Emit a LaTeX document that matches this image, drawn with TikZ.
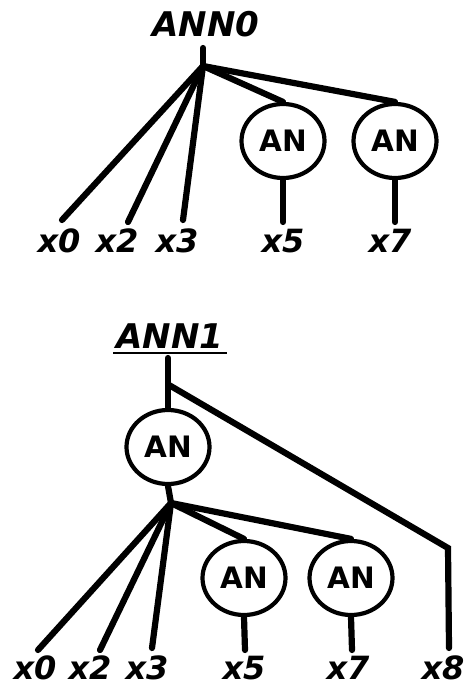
\documentclass[tikz,border=0pt]{standalone}
\usepackage{fontspec}
\setmainfont{DejaVu Sans}
\usetikzlibrary{shapes.geometric}
\begin{document}
\begin{tikzpicture}[x=1pt,y=-1pt,line width=6.2pt,line cap=round,
  an/.style={draw,ellipse,minimum width=83pt,minimum height=74pt,line width=4.2pt,inner sep=0pt,
    font=\fontsize{29.5}{29.5}\selectfont\bfseries},
  lbl/.style={anchor=base,inner sep=0pt,font=\fontsize{32}{32}\selectfont\bfseries\itshape},
  ttl/.style={anchor=base,inner sep=0pt,font=\fontsize{34}{34}\selectfont\bfseries\itshape}]
\useasboundingbox (0,0) rectangle (463,684);

% ---------- top tree ----------
\node[ttl] (t0) at (206,37) {ANN0};
\coordinate (s0) at (203,48);
\coordinate (j0) at (203,66);
\node[an] (a5) at (283,141) {AN};
\node[an] (a7) at (395,141) {AN};
\node[lbl] (x0a) at (59,253) {x0};
\node[lbl] (x2a) at (117,253) {x2};
\node[lbl] (x3a) at (177,253) {x3};
\node[lbl] (x5a) at (283,253) {x5};
\node[lbl] (x7a) at (390,253) {x7};
\coordinate (e0a) at (62,220);
\coordinate (e2a) at (128,222);
\coordinate (e3a) at (183,220);
\coordinate (e5a) at (283,222);
\coordinate (e7a) at (395,222);
\draw (s0) -- (j0);
\draw (j0) -- (e0a);
\draw (j0) -- (e2a);
\draw (j0) -- (e3a);
\draw (j0) -- (a5.north);
\draw (j0) -- (a7.north);
\draw (a5.south) -- (e5a);
\draw (a7.south) -- (e7a);

% ---------- bottom tree ----------
\node[ttl] (t1) at (170,348) {ANN1};
\draw[line width=2.5pt,line cap=butt] ([yshift=-5pt]t1.base west) -- ([yshift=-5pt]t1.base east);
\coordinate (s1) at (168,358);
\coordinate (k1) at (169,385);
\node[an] (b0) at (168,447) {AN};
\coordinate (j1) at (171,503);
\node[an] (b5) at (244,578) {AN};
\node[an] (b7) at (351,578) {AN};
\coordinate (c8) at (448,548);
\node[lbl] (x0b) at (35,679) {x0};
\node[lbl] (x2b) at (90,679) {x2};
\node[lbl] (x3b) at (147,679) {x3};
\node[lbl] (x5b) at (244,679) {x5};
\node[lbl] (x7b) at (348,679) {x7};
\node[lbl] (x8b) at (443,679) {x8};
\coordinate (e0b) at (38,650);
\coordinate (e2b) at (100,650);
\coordinate (e3b) at (152,648);
\coordinate (e5b) at (245,650);
\coordinate (e7b) at (352,650);
\coordinate (e8b) at (449,648);
\draw (s1) -- (b0.north);
\draw (k1) -- (c8) -- (e8b);
\draw (b0.south) -- (j1);
\draw (j1) -- (e0b);
\draw (j1) -- (e2b);
\draw (j1) -- (e3b);
\draw (j1) -- (b5.north);
\draw (j1) -- (b7.north);
\draw (b5.south) -- (e5b);
\draw (b7.south) -- (e7b);
\end{tikzpicture}
\end{document}
